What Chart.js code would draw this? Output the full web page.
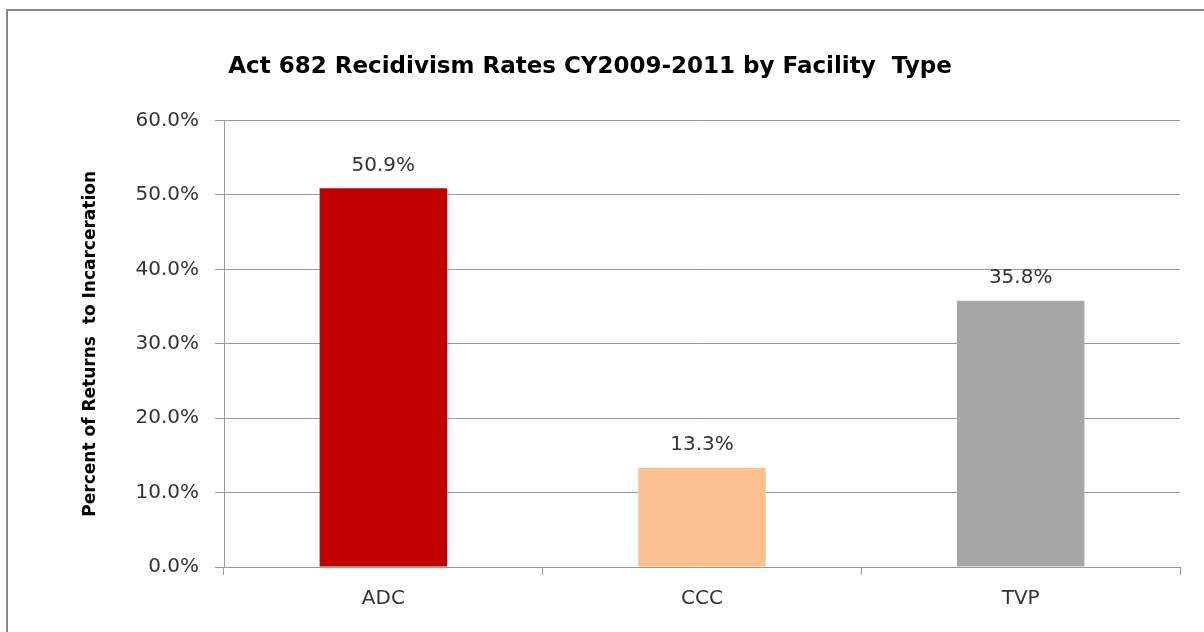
<!DOCTYPE html>
<html>
<head>
<meta charset="utf-8">
<script src="https://cdn.jsdelivr.net/npm/chart.js@4"></script>
<style>
  html, body { margin: 0; padding: 0; background: #fff; overflow: hidden; }
  #frame { position: absolute; left: 6px; top: 9px; width: 1300px; height: 700px; border: 2px solid #878787; }
  #grafico { position: absolute; left: 0; top: 0; }
</style>
</head>
<body>
<div id="frame"></div>
<canvas id="grafico" width="1204" height="632"></canvas>
<script>
var categorias = ["ADC", "CCC", "TVP"];
var taxas = [50.9, 13.3, 35.8];
var cores = ["#C00000", "#FAC090", "#A6A6A6"];
var tituloGrafico = "Act 682 Recidivism Rates CY2009-2011 by Facility  Type";
var tituloEixoY = "Percent of Returns  to Incarceration";

// desenha o valor em cima de cada barra
var rotulosBarras = {
    id: "rotulosBarras",
    afterDatasetsDraw: function(chart) {
        var ctx = chart.ctx;
        var meta = chart.getDatasetMeta(0);
        ctx.save();
        ctx.font = "20px 'DejaVu Sans'";
        ctx.fillStyle = "#333333";
        ctx.textAlign = "center";
        ctx.textBaseline = "middle";
        meta.data.forEach(function(barra, i) {
            ctx.fillText(taxas[i].toFixed(1) + "%", barra.x, barra.y - 23);
        });
        ctx.restore();
    }
};

var ctx = document.getElementById("grafico");
var grafico = new Chart(ctx, {
    type: "bar",
    data: {
        labels: categorias,
        datasets: [{
            data: taxas,
            backgroundColor: cores,
            borderWidth: 0,
            barPercentage: 1,
            categoryPercentage: 0.4
        }]
    },
    plugins: [rotulosBarras],
    options: {
        responsive: false,
        animation: false,
        devicePixelRatio: 1,
        layout: { padding: { left: 0, right: 24, top: 0, bottom: 0 } },
        plugins: {
            legend: { display: false },
            tooltip: { enabled: false },
            title: {
                display: true,
                text: tituloGrafico,
                color: "#000",
                font: { family: "'DejaVu Sans'", size: 23, weight: "bold" },
                padding: { top: 53, bottom: 40 }
            }
        },
        scales: {
            x: {
                grid: { drawOnChartArea: false, color: "#999", tickLength: 8, offset: true },
                border: { color: "#999" },
                ticks: { color: "#333", font: { family: "'DejaVu Sans'", size: 20 }, padding: 12 },
                afterFit: function(scale) { scale.height = 65; }
            },
            y: {
                min: 0,
                max: 60,
                ticks: {
                    stepSize: 10,
                    color: "#333",
                    padding: 16,
                    font: { family: "'DejaVu Sans'", size: 20 },
                    callback: function(v) { return v.toFixed(1) + "%"; }
                },
                grid: { color: "#999", tickLength: 9 },
                border: { color: "#999" },
                title: {
                    display: true,
                    text: tituloEixoY,
                    color: "#000",
                    font: { family: "'DejaVu Sans'", size: 17, weight: "bold" },
                    padding: { top: 80, bottom: 0 }
                },
                afterFit: function(scale) { scale.width = 224; }
            }
        }
    }
});
</script>
</body>
</html>
